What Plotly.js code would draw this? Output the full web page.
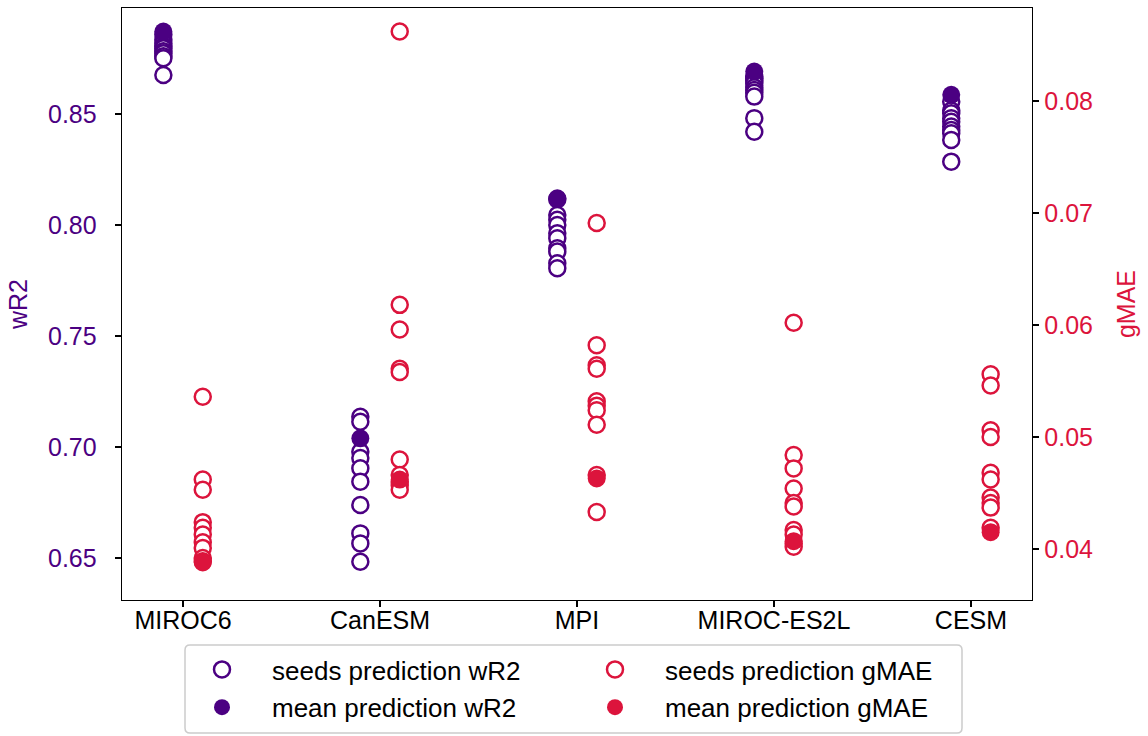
<!DOCTYPE html>
<html>
<head>
<meta charset="utf-8">
<script src="https://cdn.plot.ly/plotly-3.0.1.min.js"></script>
<style>
  html, body { margin: 0; padding: 0; background: #ffffff; }
  #chart { width: 1148px; height: 736px; }
</style>
</head>
<body>
<div id="chart"></div>
<script>
// Models on the x axis
const models = ["MIROC6", "CanESM", "MPI", "MIROC-ES2L", "CESM"];

// Per-seed wR2 scores (10 seeds per model)
const seedsWR2_MIROC6    = [0.8858, 0.8835, 0.8818, 0.8805, 0.8796, 0.8782, 0.8773, 0.8760, 0.8751, 0.8675];
const seedsWR2_CanESM    = [0.7136, 0.7114, 0.6979, 0.6950, 0.6904, 0.6844, 0.6739, 0.6611, 0.6566, 0.6483];
const seedsWR2_MPI       = [0.8115, 0.8045, 0.8023, 0.8000, 0.7963, 0.7940, 0.7895, 0.7880, 0.7827, 0.7805];
const seedsWR2_MIROCES2L = [0.8668, 0.8661, 0.8650, 0.8638, 0.8620, 0.8608, 0.8595, 0.8578, 0.8481, 0.8420];
const seedsWR2_CESM      = [0.8555, 0.8515, 0.8503, 0.8481, 0.8465, 0.8443, 0.8428, 0.8413, 0.8383, 0.8285];

// Per-seed gMAE scores
const seedsGMAE_MIROC6    = [0.0536, 0.0462, 0.0453, 0.0424, 0.0419, 0.0413, 0.0406, 0.0401, 0.0392, 0.0389];
const seedsGMAE_CanESM    = [0.0862, 0.0618, 0.0596, 0.0561, 0.0558, 0.0480, 0.0466, 0.0460, 0.0457, 0.0453];
const seedsGMAE_MPI       = [0.0691, 0.0582, 0.0564, 0.0561, 0.0532, 0.0528, 0.0524, 0.0511, 0.0466, 0.0433];
const seedsGMAE_MIROCES2L = [0.0602, 0.0484, 0.0472, 0.0454, 0.0441, 0.0438, 0.0417, 0.0413, 0.0405, 0.0402];
const seedsGMAE_CESM      = [0.0556, 0.0546, 0.0506, 0.0500, 0.0468, 0.0462, 0.0446, 0.0441, 0.0437, 0.0419];

// Scores of the ensemble-mean prediction
const meanWR2  = [0.8871, 0.7039, 0.8120, 0.8691, 0.8586];
const meanGMAE = [0.0388, 0.0462, 0.0463, 0.0407, 0.0415];

const seedsWR2  = [seedsWR2_MIROC6, seedsWR2_CanESM, seedsWR2_MPI, seedsWR2_MIROCES2L, seedsWR2_CESM];
const seedsGMAE = [seedsGMAE_MIROC6, seedsGMAE_CanESM, seedsGMAE_MPI, seedsGMAE_MIROCES2L, seedsGMAE_CESM];

const PURPLE = "#4b0082";
const RED = "#dc143c";
const OFFSET = 0.1;   // wR2 left of the category, gMAE right of it
const FONT = "Liberation Sans, Arial, Helvetica, sans-serif";
const FS = 25;        // tick labels and axis titles
const LFS = 26;       // legend entries

function flatten(groups, shift) {
  const xs = [], ys = [];
  groups.forEach((vals, i) => vals.forEach(v => { xs.push(i + shift); ys.push(v); }));
  return { xs, ys };
}

const sw = flatten(seedsWR2, -OFFSET);
const sg = flatten(seedsGMAE, OFFSET);
const idx = models.map((_, i) => i);

const openMarker = c => ({ symbol: "circle", size: 16, color: "#ffffff", line: { color: c, width: 2.5 } });
const fullMarker = c => ({ symbol: "circle", size: 18, color: c, line: { width: 0 } });

const traces = [
  { x: sw.xs, y: sw.ys, type: "scatter", mode: "markers", name: "seeds prediction wR2",
    marker: openMarker(PURPLE), yaxis: "y", legend: "legend", legendgroup: "a" },
  { x: idx.map(i => i - OFFSET), y: meanWR2, type: "scatter", mode: "markers", name: "mean prediction wR2",
    marker: fullMarker(PURPLE), yaxis: "y", legend: "legend", legendgroup: "b" },
  { x: sg.xs, y: sg.ys, type: "scatter", mode: "markers", name: "seeds prediction gMAE",
    marker: openMarker(RED), yaxis: "y2", legend: "legend2", legendgroup: "c" },
  { x: idx.map(i => i + OFFSET), y: meanGMAE, type: "scatter", mode: "markers", name: "mean prediction gMAE",
    marker: fullMarker(RED), yaxis: "y2", legend: "legend2", legendgroup: "d" }
];

const W = 1148, H = 736;
const L = 122, R = 116, T = 8, B = 136;
const pw = W - L - R, ph = H - T - B;
const px = x => (x - L) / pw;
const py = y => (H - B - y) / ph;

const legendCommon = {
  orientation: "v", yanchor: "top", xanchor: "left",
  bgcolor: "rgba(0,0,0,0)", borderwidth: 0,
  font: { family: FONT, size: LFS, color: "#000000" },
  tracegroupgap: 1, itemwidth: 90
};

// legend frame with rounded corners, in paper coordinates
function roundedRect(x0, y0, x1, y1, r) {
  const X = v => px(v), Y = v => py(v);
  return `M ${X(x0 + r)} ${Y(y0)} L ${X(x1 - r)} ${Y(y0)} Q ${X(x1)} ${Y(y0)} ${X(x1)} ${Y(y0 + r)} ` +
         `L ${X(x1)} ${Y(y1 - r)} Q ${X(x1)} ${Y(y1)} ${X(x1 - r)} ${Y(y1)} ` +
         `L ${X(x0 + r)} ${Y(y1)} Q ${X(x0)} ${Y(y1)} ${X(x0)} ${Y(y1 - r)} ` +
         `L ${X(x0)} ${Y(y0 + r)} Q ${X(x0)} ${Y(y0)} ${X(x0 + r)} ${Y(y0)} Z`;
}

const axisLine = { showline: true, linecolor: "#000000", linewidth: 1.3,
  ticks: "outside", ticklen: 6, tickwidth: 1.3, tickcolor: "#000000",
  showgrid: false, zeroline: false, automargin: false };

const layout = {
  width: W, height: H,
  margin: { l: L, r: R, t: T, b: B, pad: 0, autoexpand: false },
  paper_bgcolor: "#ffffff", plot_bgcolor: "#ffffff",
  font: { family: FONT, size: FS, color: "#000000" },
  showlegend: true,
  xaxis: Object.assign({}, axisLine, {
    range: [-0.31, 4.31], tickvals: idx, ticktext: models, mirror: true,
    ticklabelstandoff: -8,
    tickfont: { family: FONT, size: FS, color: "#000000" }
  }),
  yaxis: Object.assign({}, axisLine, {
    range: [0.6311, 0.8977], tickvals: [0.65, 0.70, 0.75, 0.80, 0.85],
    ticktext: ["0.65", "0.70", "0.75", "0.80", "0.85"],
    ticklabelstandoff: 13,
    tickfont: { family: FONT, size: FS, color: PURPLE },
    title: { text: "wR2", font: { family: FONT, size: FS, color: PURPLE }, standoff: 13 }
  }),
  yaxis2: Object.assign({}, axisLine, {
    overlaying: "y", side: "right",
    range: [0.03545, 0.0883], tickvals: [0.04, 0.05, 0.06, 0.07, 0.08],
    ticktext: ["0.04", "0.05", "0.06", "0.07", "0.08"],
    tickfont: { family: FONT, size: FS, color: RED },
    title: { text: "gMAE", font: { family: FONT, size: FS, color: RED }, standoff: 25 }
  }),
  legend: Object.assign({}, legendCommon, { x: px(172), y: py(646) }),
  legend2: Object.assign({}, legendCommon, { x: px(565), y: py(646) }),
  shapes: [{
    type: "path", xref: "paper", yref: "paper",
    path: roundedRect(185, 645, 962, 733, 5),
    line: { color: "#cccccc", width: 1.5 }, fillcolor: "rgba(0,0,0,0)", layer: "below"
  }]
};

Plotly.newPlot("chart", traces, layout, { displayModeBar: false, staticPlot: true });
</script>
</body>
</html>
